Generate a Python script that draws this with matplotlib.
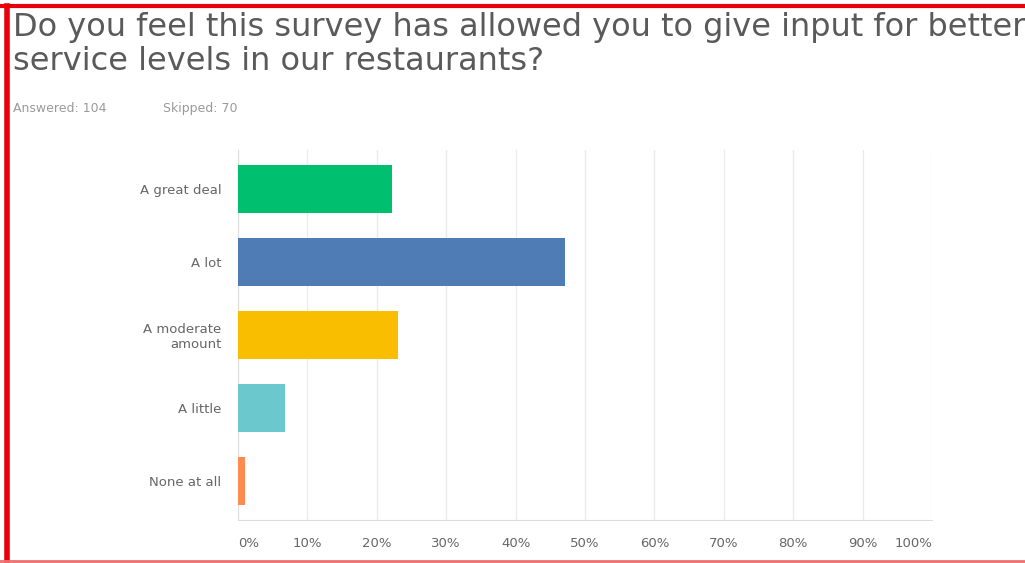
import matplotlib.pyplot as plt
from matplotlib.lines import Line2D

answers = ['A great deal', 'A lot', 'A moderate\namount', 'A little', 'None at all']
percents = [22.12, 47.12, 23.08, 6.73, 0.96]
bar_colors = ['#00bf6f', '#507cb6', '#f9be00', '#6bc8cd', '#ff8b4f']
ticks = list(range(0, 101, 10))
tick_labels = [f'{t}%' for t in ticks]
answered = 104
skipped = 70

fig = plt.figure(figsize=(10.25, 5.63), dpi=100)
ax = fig.add_axes([0.2322, 0.0764, 0.6771, 0.6572])

pos = list(range(len(answers)))
ax.barh(pos, percents, height=0.66, color=bar_colors, zorder=3)
ax.set_ylim(len(answers) - 0.47, -0.53)
ax.set_xlim(0, 100)

ax.set_yticks(pos)
ax.set_yticklabels(answers, fontsize=9.5, color='#666666', ha='right')
ax.set_xticks(ticks)
ax.set_xticklabels(tick_labels, fontsize=9.5, color='#666666')
labels = ax.get_xticklabels()
labels[0].set_ha('left')
labels[-1].set_ha('right')
ax.tick_params(axis='both', length=0)
ax.tick_params(axis='y', pad=12)
ax.tick_params(axis='x', pad=12)

ax.grid(axis='x', color='#ebebeb', linewidth=1, zorder=0)
for side in ['top', 'right']:
    ax.spines[side].set_visible(False)
for side in ['left', 'bottom']:
    ax.spines[side].set_color('#dddddd')

fig.text(0.0127, 0.978, 'Do you feel this survey has allowed you to give input for better\n'
         'service levels in our restaurants?', fontsize=23, color='#5a5a5a',
         va='top', ha='left', linespacing=1.12)
fig.text(0.0127, 0.808, f'Answered: {answered}', fontsize=9, color='#9a9a9a',
         va='center', ha='left')
fig.text(0.159, 0.808, f'Skipped: {skipped}', fontsize=9, color='#9a9a9a',
         va='center', ha='left')

# red frame around the panel
fig.add_artist(Line2D([0.0068, 0.0068], [0.0, 0.99], transform=fig.transFigure,
                      color='#e8000b', linewidth=4))
fig.add_artist(Line2D([0.0, 1.0], [0.9893, 0.9893], transform=fig.transFigure,
                      color='#e8000b', linewidth=3))
fig.add_artist(Line2D([0.0, 1.0], [0.003, 0.003], transform=fig.transFigure,
                      color='#f07070', linewidth=2))

fig.savefig('out.png', dpi=100)
